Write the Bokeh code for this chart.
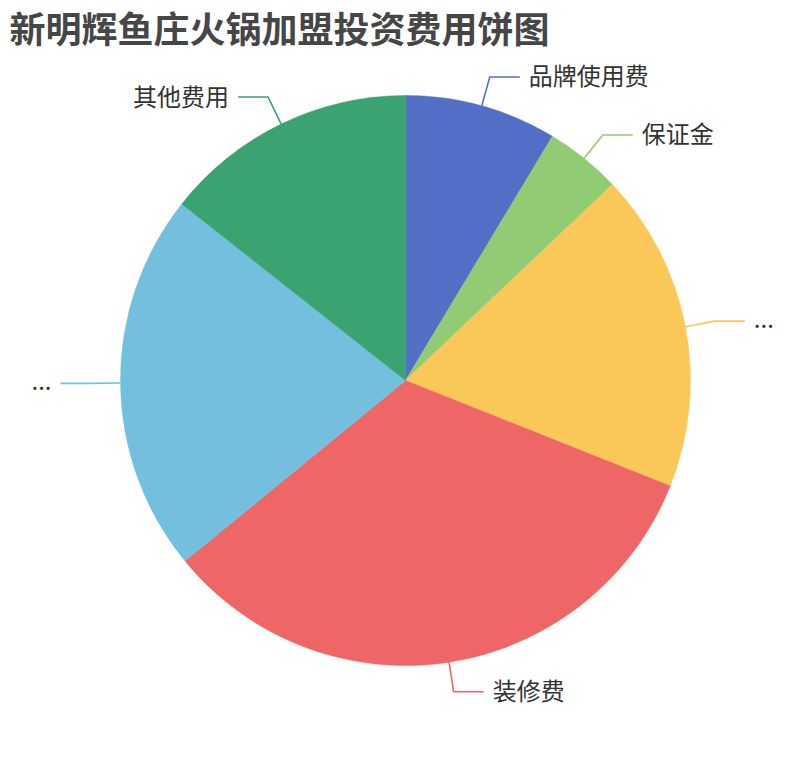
import math
from bokeh.plotting import figure
from bokeh.models import Range1d, Label, ColumnDataSource
from bokeh.embed import file_html
from bokeh.resources import INLINE
from bokeh.core.properties import value

title_text = "新明辉鱼庄火锅加盟投资费用饼图"
names = ["品牌使用费", "保证金", "...", "装修费", "...", "其他费用"]
values = [3, 1.5, 6.3, 11.5, 7.5, 5]
colors = ["#5470c6", "#91cc75", "#fac858", "#ee6666", "#73c0de", "#3ba272"]

FONT = "Noto Sans CJK SC"
W, H = 794, 744
CX, CY, R = 405, 380, 285
L1, L2, GAP = 30, 30, 9

# data units = picture pixels (y measured upward from picture bottom 760)
p = figure(width=W, height=H, output_backend="svg", toolbar_location=None,
           x_range=Range1d(0, W), y_range=Range1d(760 - H, 760),
           x_axis_location=None, y_axis_location=None,
           min_border=0, min_border_left=0, min_border_right=0,
           min_border_top=0, min_border_bottom=0)
p.grid.visible = False
p.outline_line_color = None
p.background_fill_color = "white"
p.border_fill_color = "white"

total = float(sum(values))
starts, ends = [], []
cum = 0.0
for v in values:
    a0 = cum / total * 2 * math.pi
    cum += v
    a1 = cum / total * 2 * math.pi
    starts.append(math.pi / 2 - a1)
    ends.append(math.pi / 2 - a0)

src = ColumnDataSource(dict(start=starts, end=ends, color=colors, name=names, value=values))
p.wedge(x=CX, y=CY, radius=R, start_angle="start", end_angle="end",
        fill_color="color", line_color="color", line_width=0.5, source=src)

lx, ly, lc = [], [], []
rt = dict(x=[], y=[], text=[])
lt = dict(x=[], y=[], text=[])
for s, e, c, n in zip(starts, ends, colors, names):
    m = (s + e) / 2
    x0, y0 = CX + R * math.cos(m), CY + R * math.sin(m)
    x1, y1 = CX + (R + L1) * math.cos(m), CY + (R + L1) * math.sin(m)
    side = 1 if math.cos(m) >= 0 else -1
    x2 = x1 + side * L2
    lx.append([x0, x1, x2]); ly.append([y0, y1, y1]); lc.append(c)
    d = rt if side > 0 else lt
    d["x"].append(x2 + side * GAP); d["y"].append(y1 + 2); d["text"].append(n)

p.multi_line(xs=lx, ys=ly, line_color=lc, line_width=1.6)
for d, al in ((rt, "left"), (lt, "right")):
    p.text(x="x", y="y", text="text", source=ColumnDataSource(d),
           text_align=al, text_baseline="middle", text_font=value(FONT),
           text_font_size="24px", text_color="#333333")

p.add_layout(Label(x=9, y=760 - 26, text=title_text, text_font=FONT,
                   text_font_size="36px", text_font_style="bold",
                   text_color="#464646", text_baseline="middle"))

open("out.html", "w").write(file_html(p, INLINE))
